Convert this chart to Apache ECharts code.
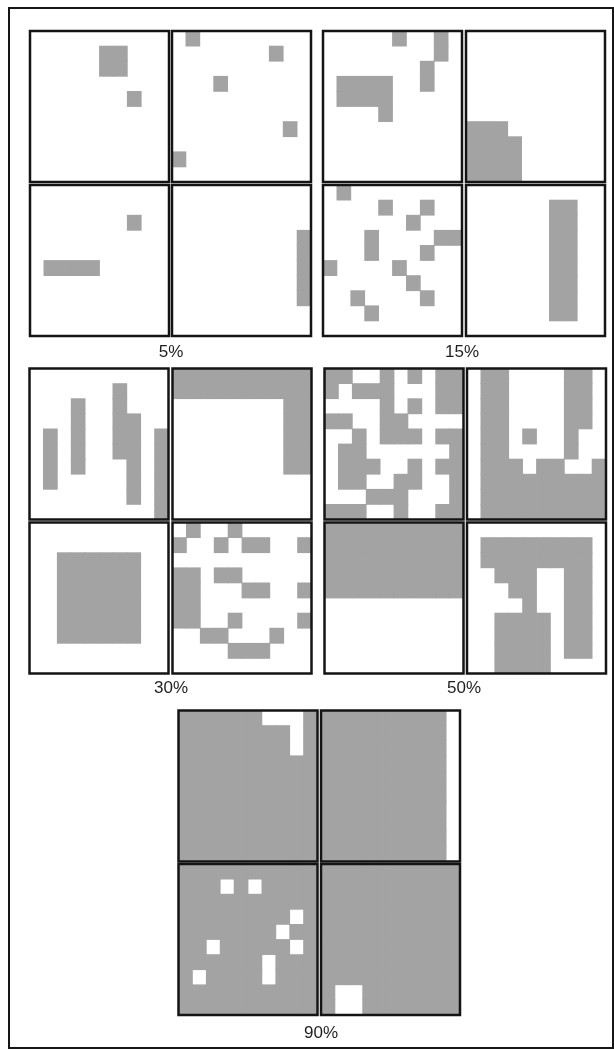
<!DOCTYPE html>
<html>
<head>
<meta charset="utf-8">
<script src="https://cdn.jsdelivr.net/npm/echarts@6/dist/echarts.min.js"></script>
<style>
html,body{margin:0;padding:0;background:#fff;}
#c{width:614px;height:1052px;}
</style>
</head>
<body>
<div id="c"></div>
<script>
// Each landscape: 10 rows x 10 columns, '#' = habitat (grey), '.' = empty
const labels = ["5%", "15%", "30%", "50%", "90%"];

const p05a = ["..........",".....##...",".....##...","..........",".......#..","..........","..........","..........","..........",".........."];
const p05b = [".#........",".......#..","..........","...#......","..........","..........","........#.","..........","#.........",".........."];
const p05c = ["..........","..........",".......#..","..........","..........",".####.....","..........","..........","..........",".........."];
const p05d = ["..........","..........","..........",".........#",".........#",".........#",".........#",".........#","..........",".........."];

const p15a = [".....#..#.","........#.",".......#..",".####..#..",".####.....","....#.....","..........","..........","..........",".........."];
const p15b = ["..........","..........","..........","..........","..........","..........","###.......","####......","####......","####......"];
const p15c = [".#........","....#..#..","......#...","...#....##","...#...#..","#....#....","......#...","..#....#..","...#......",".........."];
const p15d = ["..........","......##..","......##..","......##..","......##..","......##..","......##..","......##..","......##..",".........."];

const p30a = ["..........","......#...","...#..#...","...#..##..",".#.#..##.#",".#.#..##.#",".#.#...#.#",".#.....#.#",".......#.#",".........#"];
const p30b = ["##########","##########","........##","........##","........##","........##","........##","..........","..........",".........."];
const p30c = ["..........","..........","..######..","..######..","..######..","..######..","..######..","..######..","..........",".........."];
const p30d = [".#..#.....","#..#.##..#","..........","##.##.....","##...##..#","##........","##..#....#","..##...#..","....###...",".........."];

const p50a = ["##..#.#.##","#.###...##","....#.#.##","##..##....","..#.###.##",".##......#",".###..#.##",".##..##..#","...###...#","###..#..##"];
const p50b = [".##....##.",".##....##.",".##....##.",".##....##.",".##.#..#..",".##....#..",".###.##..#",".#########",".#########",".#########"];
const p50c = ["##########","##########","##########","##########","##########","..........","..........","..........","..........",".........."];
const p50d = ["..........",".########.",".########.","..###..##.","...##..##.","....#..##.","..####.##.","..####.##.","..####.##.","..####...."];

const p90a = ["######...#","########.#","########.#","##########","##########","##########","##########","##########","##########","##########"];
const p90b = ["#########.","#########.","#########.","#########.","#########.","#########.","#########.","#########.","#########.","#########."];
const p90c = ["##########","###.#.####","##########","########.#","#######.##","##.#####.#","######.###","#.####.###","##########","##########"];
const p90d = ["##########","##########","##########","##########","##########","##########","##########","##########","#..#######","#..#######"];

const panels = [p05a,p05b,p05c,p05d,p15a,p15b,p15c,p15d,p30a,p30b,p30c,p30d,p50a,p50b,p50c,p50d,p90a,p90b,p90c,p90d];

// layout (pixel positions of each 2x2 group)
const groupPos = [
  {x0:30, x1:172, y0:31, y1:185, lx:171, ly:352},
  {x0:323, x1:466, y0:31, y1:185, lx:462, ly:352},
  {x0:29.5, x1:172.5, y0:368.5, y1:522.5, lx:171, ly:688},
  {x0:324.5, x1:467, y0:368.5, y1:522.5, lx:464, ly:688},
  {x0:178.5, x1:321, y0:710.5, y1:864, lx:321, ly:1033}
];
const PW = 139, PH = 151;
const GREY = '#a3a3a3';

function toCells(rows){
  const out = [];
  rows.forEach((s, r) => {
    for (let c = 0; c < s.length; c++) if (s[c] === '#') out.push([c, r]);
  });
  return out;
}

const grids = [], xAxes = [], yAxes = [], series = [], graphics = [];
panels.forEach((rows, i) => {
  const g = groupPos[Math.floor(i / 4)];
  const k = i % 4;
  grids.push({
    left: (k % 2 === 0 ? g.x0 : g.x1),
    top: (k < 2 ? g.y0 : g.y1),
    width: PW, height: PH,
    show: true, backgroundColor: 'transparent',
    borderColor: '#141414', borderWidth: 2.5, z: 10
  });
  xAxes.push({gridIndex: i, type: 'value', min: 0, max: 10, show: false});
  yAxes.push({gridIndex: i, type: 'value', min: 0, max: 10, inverse: true, show: false});
  series.push({
    type: 'custom', xAxisIndex: i, yAxisIndex: i, silent: true, animation: false,
    data: toCells(rows),
    renderItem: function (params, api) {
      const a = api.coord([api.value(0), api.value(1)]);
      const b = api.coord([api.value(0) + 1, api.value(1) + 1]);
      const x = Math.min(a[0], b[0]), y = Math.min(a[1], b[1]);
      return {
        type: 'rect',
        shape: {x: x - 0.4, y: y - 0.4, width: Math.abs(b[0] - a[0]) + 0.8, height: Math.abs(b[1] - a[1]) + 0.8},
        style: {fill: GREY}
      };
    }
  });
});

groupPos.forEach((g, i) => {
  graphics.push({
    type: 'text', x: g.lx, y: g.ly, silent: true,
    style: {text: labels[i], fill: '#1e1e1e', font: '17px "Liberation Sans", Arial, sans-serif', textAlign: 'center', textVerticalAlign: 'middle'}
  });
});

graphics.push({
  type: 'rect', silent: true, z: 20,
  shape: {x: 9, y: 8, width: 604, height: 1040},
  style: {fill: 'none', stroke: '#161616', lineWidth: 2}
});

const chart = echarts.init(document.getElementById('c'), null, {renderer: 'canvas'});
chart.setOption({
  backgroundColor: '#ffffff',
  animation: false,
  grid: grids,
  xAxis: xAxes,
  yAxis: yAxes,
  series: series,
  graphic: graphics
});
</script>
</body>
</html>
